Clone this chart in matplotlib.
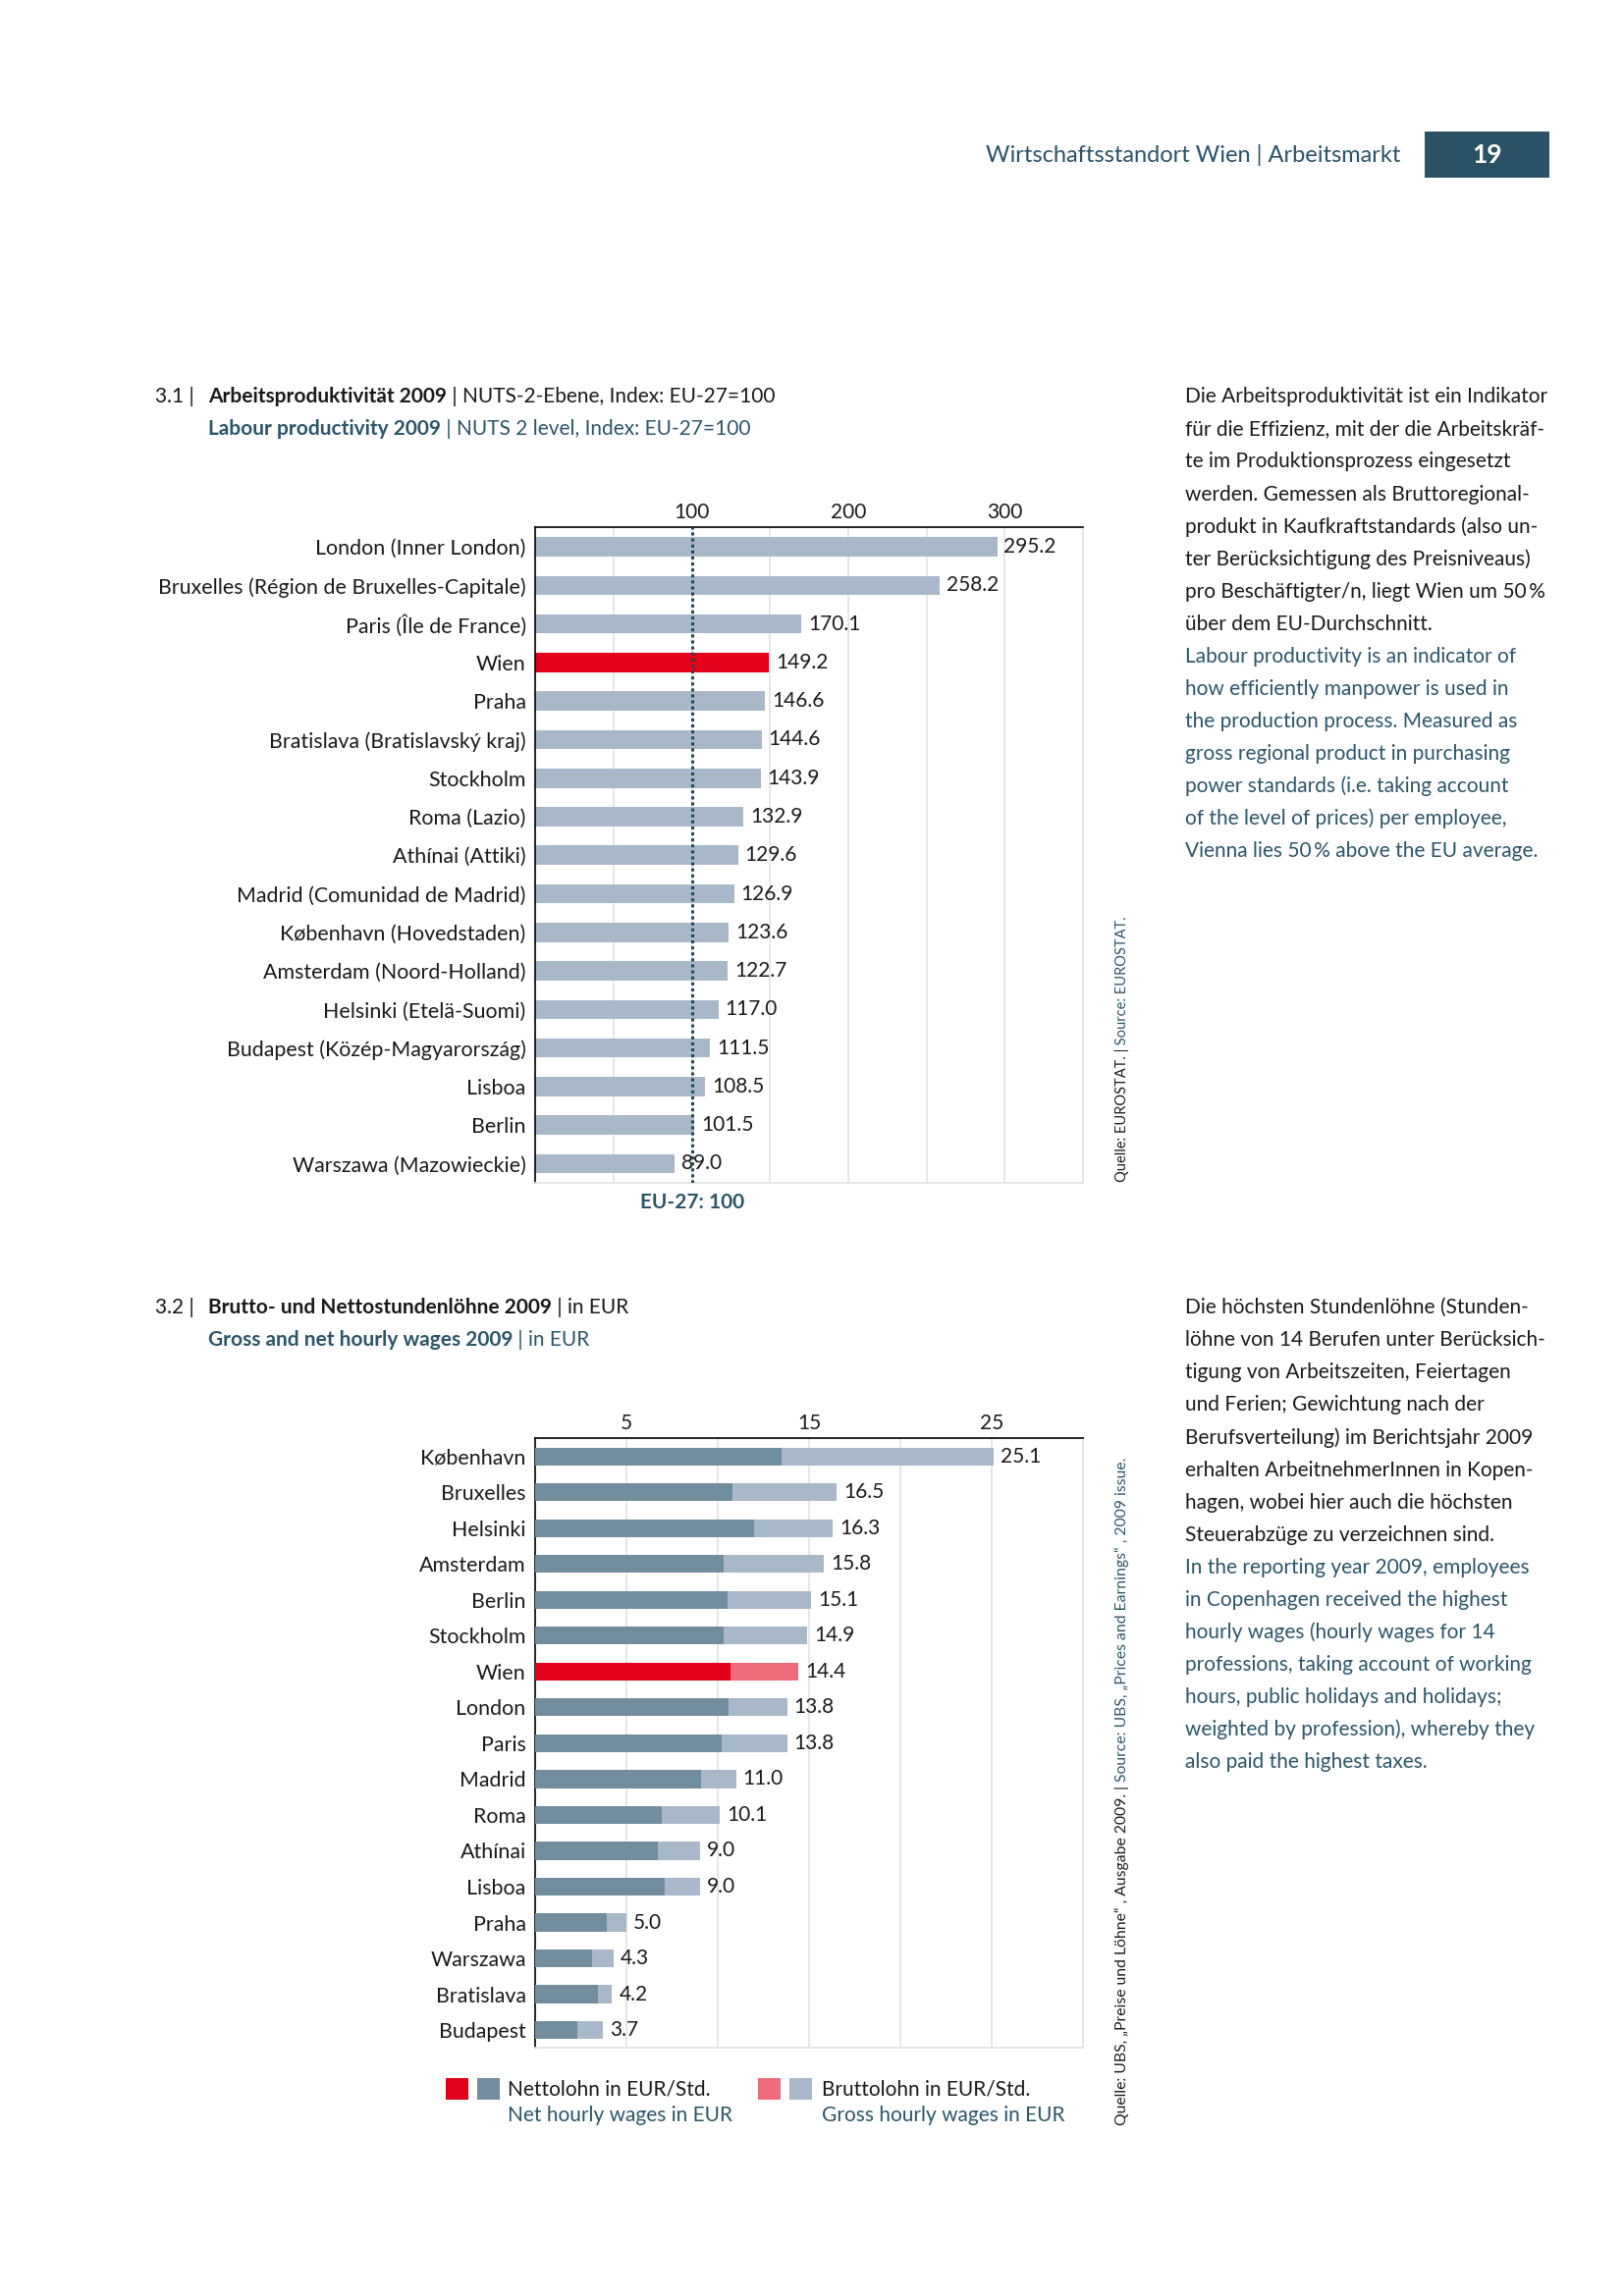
import numpy as np
import matplotlib
matplotlib.use("Agg")
import matplotlib.pyplot as plt
from matplotlib.patches import Rectangle
from matplotlib.transforms import blended_transform_factory

# chart 3.1 - labour productivity, EU-27 = 100
regions = ["London (Inner London)", "Bruxelles (Région de Bruxelles-Capitale)",
           "Paris (Île de France)", "Wien", "Praha", "Bratislava (Bratislavský kraj)",
           "Stockholm", "Roma (Lazio)", "Athínai (Attiki)", "Madrid (Comunidad de Madrid)",
           "København (Hovedstaden)", "Amsterdam (Noord-Holland)", "Helsinki (Etelä-Suomi)",
           "Budapest (Közép-Magyarország)", "Lisboa", "Berlin", "Warszawa (Mazowieckie)"]
productivity = [295.2, 258.2, 170.1, 149.2, 146.6, 144.6, 143.9, 132.9, 129.6,
                126.9, 123.6, 122.7, 117.0, 111.5, 108.5, 101.5, 89.0]
eu_avg = 100

# chart 3.2 - gross / net hourly wages in EUR
cities = ["København", "Bruxelles", "Helsinki", "Amsterdam", "Berlin", "Stockholm",
          "Wien", "London", "Paris", "Madrid", "Roma", "Athínai", "Lisboa", "Praha",
          "Warszawa", "Bratislava", "Budapest"]
gross = [25.1, 16.5, 16.3, 15.8, 15.1, 14.9, 14.4, 13.8, 13.8, 11.0, 10.1, 9.0, 9.0,
         5.0, 4.3, 4.2, 3.7]
net = [13.5, 10.8, 12.0, 10.3, 10.5, 10.3, 10.7, 10.6, 10.2, 9.1, 6.9, 6.7, 7.1,
       3.9, 3.1, 3.4, 2.3]

W, H = 1654, 2339
K = 0.9935  # small correction of the layout grid
BLACK = "#1a1a1a"
TEAL = "#2c5568"
HEAD = "#2a5267"
BAR = "#a9b8c8"
NET = "#718d9e"
RED = "#e2001a"
PINK = "#ee6b7c"
GRID = "#e4e4e4"

plt.rcParams['font.family'] = ['Lato', 'DejaVu Sans']

fig = plt.figure(figsize=(W / 100, H / 100), dpi=100)
renderer = fig.canvas.get_renderer()


def fx(x):
    return x * K / W


def fy(y):
    return 1 - y * K / H


def box(x0, y0, x1, y1):
    # pixel box (top-left origin) -> figure fraction rect
    return [fx(x0), fy(y1), (x1 - x0) * K / W, (y1 - y0) * K / H]


def put_line(x, y, parts, size=15):
    # parts: (text, weight, colour) written one after another on a baseline
    for txt, weight, color in parts:
        t = fig.text(fx(x), fy(y), txt, fontsize=size, fontweight=weight,
                     color=color, ha='left', va='baseline')
        x = t.get_window_extent(renderer).x1 / K


def put_vertical(x, y, parts, size=10.5):
    for txt, color in parts:
        t = fig.text(fx(x), fy(y), txt, fontsize=size, color=color, rotation=90,
                     rotation_mode='anchor', ha='left', va='baseline')
        y = (H - t.get_window_extent(renderer).y1) / K


def style_axes(ax, xmax, step, labelled):
    ax.set_xlim(0, xmax)
    ax.set_ylim(16.5, -0.5)
    ax.xaxis.tick_top()
    ax.set_xticks(labelled)
    ax.set_xticks(np.arange(step, xmax + 1, step), minor=True)
    ax.tick_params(axis='x', which='both', length=0, pad=4, labelsize=15, labelcolor=BLACK)
    ax.tick_params(axis='y', length=0, pad=7, labelsize=15.4, labelcolor=BLACK)
    ax.grid(True, axis='x', which='both', color=GRID, linewidth=1.3, zorder=0)
    ax.set_axisbelow(True)
    for s in ['top', 'left']:
        ax.spines[s].set_color('black')
        ax.spines[s].set_linewidth(1.2)
    for s in ['right', 'bottom']:
        ax.spines[s].set_color(GRID)
        ax.spines[s].set_linewidth(1.3)


# header
fig.text(fx(1436), fy(159), "Wirtschaftsstandort Wien | Arbeitsmarkt", fontsize=17,
         color=HEAD, ha='right', va='center')
fig.add_artist(Rectangle(box(1460, 135, 1588, 182)[:2], 128 * K / W, 47 * K / H,
                         transform=fig.transFigure, color=HEAD, linewidth=0))
fig.text(fx(1524), fy(159), "19", fontsize=19, fontweight='bold', color='white',
         ha='center', va='center')

# ---------- chart 3.1 ----------
put_line(159, 413, [("3.1 |", 'normal', BLACK)])
put_line(213, 413, [("Arbeitsproduktivität 2009", 'bold', BLACK),
                    (" | NUTS-2-Ebene, Index: EU-27=100", 'normal', BLACK)])
put_line(213, 446, [("Labour productivity 2009", 'bold', TEAL),
                    (" | NUTS 2 level, Index: EU-27=100", 'normal', TEAL)])

ax1 = fig.add_axes(box(549, 541, 1110, 1213))
y1 = np.arange(len(regions))
colors1 = [RED if r == "Wien" else BAR for r in regions]
bars1 = ax1.barh(y1, productivity, height=0.5, color=colors1, zorder=2)
ax1.bar_label(bars1, fmt='%.1f', padding=5, fontsize=15, color=BLACK)
ax1.axvline(eu_avg, color="#1d4a5c", linestyle=(0, (1, 1)), linewidth=2.2, zorder=3)
ax1.set_yticks(y1)
ax1.set_yticklabels(regions)
style_axes(ax1, 350, 50, [100, 200, 300])
ax1.text(eu_avg, fy(1233), "EU-27: 100",
         transform=blended_transform_factory(ax1.transData, fig.transFigure),
         fontsize=15, fontweight='bold', color=TEAL, ha='center', va='center')

put_vertical(1155, 1212, [("Quelle: EUROSTAT. |", BLACK), (" Source: EUROSTAT.", TEAL)])

text1_de = ["Die Arbeitsproduktivität ist ein Indikator",
            "für die Effizienz, mit der die Arbeitskräf-",
            "te im Produktionsprozess eingesetzt",
            "werden. Gemessen als Bruttoregional-",
            "produkt in Kaufkraftstandards (also un-",
            "ter Berücksichtigung des Preisniveaus)",
            "pro Beschäftigter/n, liegt Wien um 50\u2009%",
            "über dem EU-Durchschnitt."]
text1_en = ["Labour productivity is an indicator of",
            "how efficiently manpower is used in",
            "the production process. Measured as",
            "gross regional product in purchasing",
            "power standards (i.e. taking account",
            "of the level of prices) per employee,",
            "Vienna lies 50\u2009% above the EU average."]
for i, line in enumerate(text1_de + text1_en):
    col = BLACK if i < len(text1_de) else TEAL
    put_line(1215, 413 + i * 33.3, [(line, 'normal', col)])

# ---------- chart 3.2 ----------
put_line(159, 1347, [("3.2 |", 'normal', BLACK)])
put_line(213, 1347, [("Brutto- und Nettostundenlöhne 2009", 'bold', BLACK),
                     (" | in EUR", 'normal', BLACK)])
put_line(213, 1380, [("Gross and net hourly wages 2009", 'bold', TEAL),
                     (" | in EUR", 'normal', TEAL)])

ax2 = fig.add_axes(box(549, 1475, 1110, 2100))
y2 = np.arange(len(cities))
gross_cols = [PINK if c == "Wien" else BAR for c in cities]
net_cols = [RED if c == "Wien" else NET for c in cities]
bars_g = ax2.barh(y2, gross, height=0.5, color=gross_cols, zorder=2)
ax2.barh(y2, net, height=0.5, color=net_cols, zorder=3)
ax2.bar_label(bars_g, fmt='%.1f', padding=5, fontsize=15, color=BLACK)
ax2.set_yticks(y2)
ax2.set_yticklabels(cities)
style_axes(ax2, 30, 5, [5, 15, 25])

put_vertical(1155, 2179, [("Quelle: UBS, „Preise und Löhne“ , Ausgabe 2009. |", BLACK),
                          (" Source: UBS, „Prices and Earnings“ , 2009 issue.", TEAL)],
             size=11.3)

text2_de = ["Die höchsten Stundenlöhne (Stunden-",
            "löhne von 14 Berufen unter Berücksich-",
            "tigung von Arbeitszeiten, Feiertagen",
            "und Ferien; Gewichtung nach der",
            "Berufsverteilung) im Berichtsjahr 2009",
            "erhalten ArbeitnehmerInnen in Kopen-",
            "hagen, wobei hier auch die höchsten",
            "Steuerabzüge zu verzeichnen sind."]
text2_en = ["In the reporting year 2009, employees",
            "in Copenhagen received the highest",
            "hourly wages (hourly wages for 14",
            "professions, taking account of working",
            "hours, public holidays and holidays;",
            "weighted by profession), whereby they",
            "also paid the highest taxes."]
for i, line in enumerate(text2_de + text2_en):
    col = BLACK if i < len(text2_de) else TEAL
    put_line(1215, 1347 + i * 33.3, [(line, 'normal', col)])

# legend
for x0, c in [(457, RED), (489, NET), (777, PINK), (809, BAR)]:
    r = box(x0, 2131, x0 + 23, 2153)
    fig.add_artist(Rectangle(r[:2], r[2], r[3], transform=fig.transFigure,
                             color=c, linewidth=0))
put_line(520, 2148, [("Nettolohn in EUR/Std.", 'normal', BLACK)])
put_line(520, 2175, [("Net hourly wages in EUR", 'normal', TEAL)])
put_line(842, 2148, [("Bruttolohn in EUR/Std.", 'normal', BLACK)])
put_line(842, 2175, [("Gross hourly wages in EUR", 'normal', TEAL)])

fig.savefig("out.png", dpi=100, facecolor='white')
